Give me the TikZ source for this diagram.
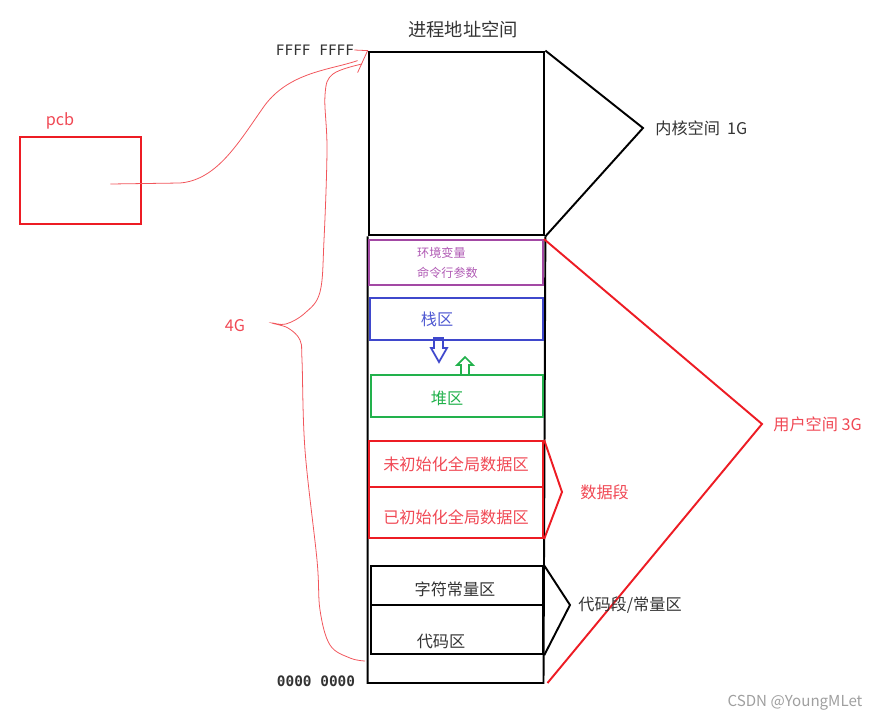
\documentclass[tikz,border=0pt]{standalone}
\usepackage{fontspec}
\setmainfont{Noto Sans CJK SC}
\newfontfamily\addrfont{DejaVu Sans Mono}
\usetikzlibrary{positioning}
\definecolor{pred}{RGB}{237,28,36}
\definecolor{lred}{RGB}{240,72,84}
\definecolor{ppurple}{RGB}{163,73,164}
\definecolor{lpurple}{RGB}{176,90,180}
\definecolor{pblue}{RGB}{63,72,204}
\definecolor{lblue}{RGB}{80,90,210}
\definecolor{pgreen}{RGB}{34,177,76}
\definecolor{txtgray}{RGB}{51,51,51}
\tikzstyle{seg} = [rectangle, minimum width=3.48cm, inner sep=0, draw=black, line width=1.1pt]
\tikzstyle{kseg} = [seg, line width=1.6pt]
\tikzstyle{lbl} = [inner sep=0, text=txtgray, font=\fontsize{9.2}{11}\selectfont]
\tikzstyle{addr} = [inner sep=0, text=txtgray, font=\addrfont\fontsize{8.2}{10}\selectfont]
\tikzstyle{side} = [line width=1.1pt]
\tikzstyle{hand} = [pred!75, line width=0.45pt]

\begin{document}
\begin{tikzpicture}[x=0.02cm, y=-0.02cm]
		\useasboundingbox (0,0) rectangle (877,721);
		\node (title) [lbl, font=\fontsize{10.4}{12}\selectfont] at (463,29) {进程地址空间};
		\node (hi) [addr] at (315,50) {FFFF FFFF};
		\node (lo) [addr, font=\addrfont\bfseries\fontsize{8.2}{10}\selectfont] at (316,681) {0000 0000};
		% address space column
		\node (kernel) [kseg, minimum width=3.5cm, minimum height=3.66cm] at (456.5,143.5) {};
		\coordinate (base) at (543.5,683);
		\draw [side] (kernel.south west) |- (base) -- (kernel.south east);
		\node (env) [seg, draw=ppurple, minimum height=0.9cm] at (456,262.5) {};
		\node (envtxt) [lbl, text=lpurple, align=left, font=\fontsize{6.9}{11.3}\selectfont] at (447.5,263) {环境变量\\命令行参数};
		\node (stack) [seg, draw=pblue, minimum width=3.46cm, minimum height=0.84cm] at (456.5,319) {};
		\node (stacktxt) [lbl, text=lblue] at (437,319) {栈区};
		\node (heap) [seg, draw=pgreen, minimum width=3.44cm, minimum height=0.84cm] at (457,396) {};
		\node (heaptxt) [lbl, text=pgreen] at (447,398) {堆区};
		\node (bss) [seg, draw=pred, line width=1.3pt, minimum height=0.92cm] at (456,464) {};
		\node (bsstxt) [lbl, text=lred] at (456,464) {未初始化全局数据区};
		\node (data) [seg, draw=pred, line width=1.3pt, minimum height=1.02cm] at (456,512.5) {};
		\node (datatxt) [lbl, text=lred] at (456,517) {已初始化全局数据区};
		\node (rodata) [seg, minimum width=3.44cm, minimum height=0.78cm] at (457,585.5) {};
		\node (rodatatxt) [lbl] at (455,589) {字符常量区};
		\node (codeseg) [seg, line width=1.4pt, minimum width=3.44cm, minimum height=0.98cm] at (457,629.5) {};
		\node (codetxt) [lbl] at (441,641) {代码区};
		% growth of stack and heap
		\draw [pblue, line width=1pt] (434,338) -- (434,348) -- (431,348) -- (439,362) -- (447,348) -- (443,348) -- (443,338) -- cycle;
		\draw [pgreen, line width=1pt] (461,375) -- (461,365) -- (457,365) -- (465,357) -- (473,365) -- (469,365) -- (469,375);
		% brackets
		\coordinate (ktip) at (643,128);
		\node (klbl) [lbl, right=0.24cm of ktip] {内核空间\ \ 1G};
		\draw [side] (kernel.north east) -- (ktip) -- (kernel.south east);
		\coordinate (utip) at (762,424);
		\node (ulbl) [lbl, text=lred, right=0.22cm of utip] {用户空间 3G};
		\draw [side, pred] (env.north east) -- (utip) -- ([xshift=0.08cm]base);
		\coordinate (dtip) at (562,492);
		\node (dlbl) [lbl, text=lred, right=0.36cm of dtip] {数据段};
		\draw [side, pred] (bss.north east) -- (dtip) -- (data.south east);
		\coordinate (ctip) at (570,605);
		\node (clbl) [lbl, right=0.16cm of ctip] {代码段/常量区};
		\draw [side] (rodata.north east) -- (ctip) -- (codeseg.south east);
		% pcb
		\node (pcb) [rectangle, draw=pred, line width=1.3pt, minimum width=2.42cm, minimum height=1.74cm] at (80.5,180.5) {};
		\node (pcblbl) [lbl, text=lred] at (60,121) {pcb};
		\draw [hand] ([xshift=0.6cm,yshift=-0.07cm]pcb.center) -- (180,183) .. controls (218,180) and (240,140) .. (265,105) .. controls (290,72) and (330,70) .. ([xshift=-0.2cm,yshift=-0.2cm]kernel.north west);
		\draw [hand] (hi.east) -- (kernel.north west) -- ++(-10,22);
		% 4G brace
		\draw [hand] plot [smooth, tension=0.6] coordinates {(362,64) (333,74) (325,95) (327,150) (324,240) (320,292) (305,313) (286,324) (272,323) (288,328) (300,340) (302,360) (305,450) (317,560) (320,610) (330,645) (350,658) (365,661)};
		\node (size) [lbl, text=lred] at (235,326) {4G};
		\node (mark) [inner sep=0, text=gray!75, font=\fontsize{8.6}{10}\selectfont] at (795,703) {CSDN @YoungMLet};
	\end{tikzpicture}
\end{document}
